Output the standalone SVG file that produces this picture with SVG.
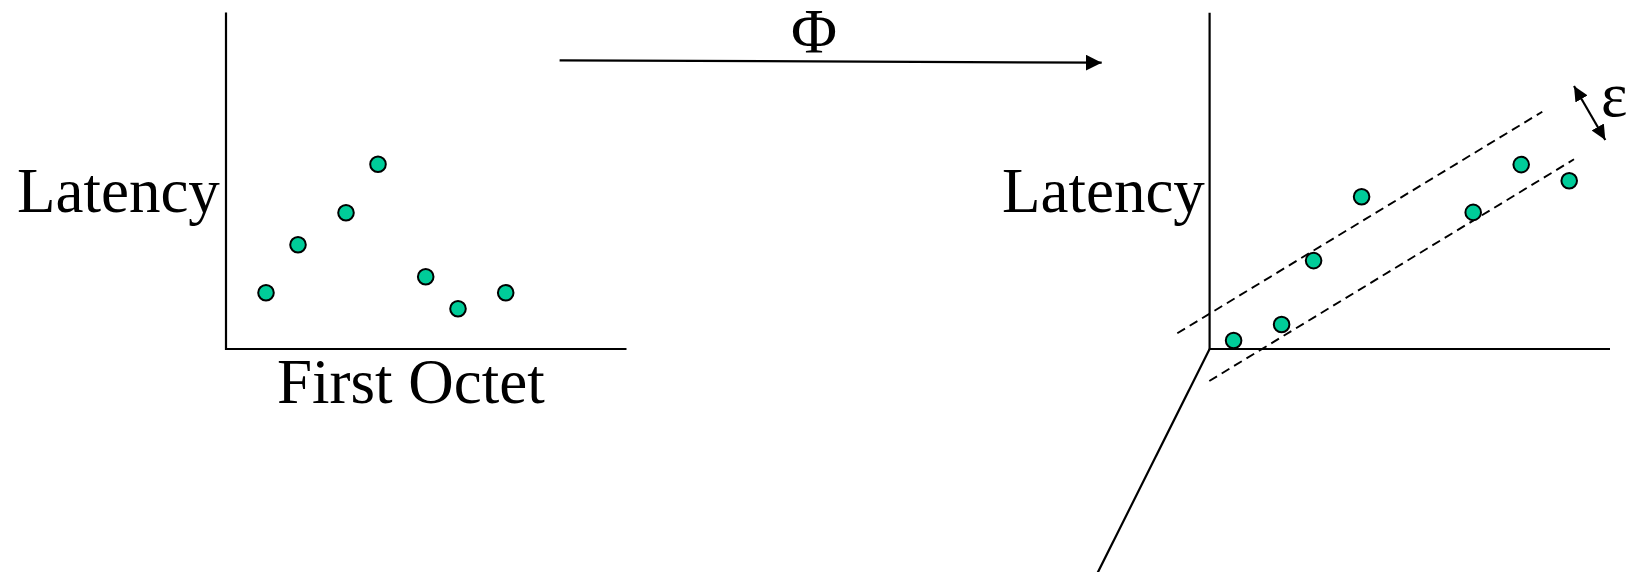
<svg xmlns="http://www.w3.org/2000/svg" width="1628" height="572" viewBox="0 0 1628 572">
  <style>
    .ax { stroke: #000; stroke-width: 2.2; fill: none; }
    .dash { stroke: #000; stroke-width: 1.9; fill: none; stroke-dasharray: 9 5.5; }
    .pt { fill: #00CC99; stroke: #000; stroke-width: 2; }
    .lbl { font-family: 'Liberation Serif', 'Times New Roman', serif; font-size: 63px; fill: #000; }
  </style>
  <defs>
    <marker id="ah" markerUnits="userSpaceOnUse" markerWidth="16" markerHeight="16" refX="16" refY="8" orient="auto">
      <path d="M0,0 L16,8 L0,16 z" fill="#000"/>
    </marker>
    <marker id="ah2" markerUnits="userSpaceOnUse" markerWidth="15" markerHeight="14" refX="15" refY="7" orient="auto-start-reverse">
      <path d="M0,0 L15,7 L0,14 z" fill="#000"/>
    </marker>
  </defs>

  <g id="left-chart">
    <path class="ax" d="M226,12.5 L226,349 L626.5,349"/>
    <text class="lbl" x="17" y="212">Latency</text>
    <text class="lbl" x="277" y="403">First Octet</text>
    <circle class="pt" cx="266" cy="292.7" r="7.8"/>
    <circle class="pt" cx="298" cy="244.7" r="7.8"/>
    <circle class="pt" cx="346" cy="212.7" r="7.8"/>
    <circle class="pt" cx="378" cy="164.3" r="7.8"/>
    <circle class="pt" cx="425.7" cy="276.7" r="7.8"/>
    <circle class="pt" cx="458" cy="308.7" r="7.8"/>
    <circle class="pt" cx="505.7" cy="292.7" r="7.8"/>
  </g>

  <g id="mapping">
    <text class="lbl" x="814" y="53" text-anchor="middle">Φ</text>
  </g>

  <g id="right-chart">
    <path class="ax" d="M1209.6,12.8 L1209.6,349 L1610,349"/>
    <line class="ax" x1="1209.6" y1="349" x2="1097" y2="574"/>
    <text class="lbl" x="1002" y="211.5">Latency</text>
    <line class="dash" x1="1177.3" y1="333.3" x2="1542.3" y2="111.7"/>
    <line class="dash" x1="1209.3" y1="381" x2="1574" y2="159.3"/>
    <circle class="pt" cx="1233.6" cy="340.5" r="7.8"/>
    <circle class="pt" cx="1281.6" cy="324.5" r="7.8"/>
    <circle class="pt" cx="1313.6" cy="260.6" r="7.8"/>
    <circle class="pt" cx="1361.6" cy="196.7" r="7.8"/>
    <circle class="pt" cx="1473.2" cy="212.4" r="7.8"/>
    <circle class="pt" cx="1521.2" cy="164.6" r="7.8"/>
    <circle class="pt" cx="1569.2" cy="180.7" r="7.8"/>
    <text class="lbl" x="1601" y="116">ε</text>
  </g>

  <g id="connectors">
    <line class="ax" x1="559.6" y1="60.3" x2="1101.7" y2="62.7" marker-end="url(#ah)"/>
    <line class="ax" x1="1574" y1="86" x2="1605.3" y2="140" marker-start="url(#ah2)" marker-end="url(#ah2)"/>
  </g>
</svg>
